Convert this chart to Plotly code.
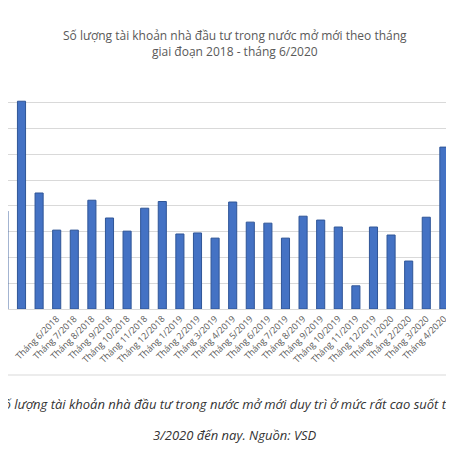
import plotly.graph_objects as go

months = ["Tháng 3/2018","Tháng 4/2018","Tháng 5/2018","Tháng 6/2018","Tháng 7/2018","Tháng 8/2018",
          "Tháng 9/2018","Tháng 10/2018","Tháng 11/2018","Tháng 12/2018","Tháng 1/2019","Tháng 2/2019",
          "Tháng 3/2019","Tháng 4/2019","Tháng 5/2019","Tháng 6/2019","Tháng 7/2019","Tháng 8/2019",
          "Tháng 9/2019","Tháng 10/2019","Tháng 11/2019","Tháng 12/2019","Tháng 1/2020","Tháng 2/2020",
          "Tháng 3/2020","Tháng 4/2020","Tháng 5/2020"]
values = [3.8, 8.06, 4.5, 3.06, 3.06, 4.22, 3.53, 3.02, 3.91, 4.17, 2.91, 2.95, 2.75, 4.15, 3.37,
          3.33, 2.75, 3.6, 3.45, 3.18, 0.9, 3.18, 2.87, 1.86, 3.56, 6.28, 7.25]

fig = go.Figure(go.Bar(x=list(range(len(months))), y=values, width=0.46,
                       marker=dict(color="#4472C4", line=dict(color="#2F5597", width=1))))
fig.update_layout(
    width=454, height=454, margin=dict(l=0, r=0, t=69, b=153),
    paper_bgcolor="white", plot_bgcolor="white", showlegend=False,
    xaxis=dict(range=[0.233, 26.03], tickmode="array", tickvals=list(range(len(months))),
               ticktext=months, tickangle=-45, tickfont=dict(family="Open Sans", size=9, color="#595959"),
               showgrid=False, showline=True, linecolor="#D9D9D9", ticks=""),
    yaxis=dict(range=[0, 9], dtick=1, showticklabels=False, gridcolor="#D9D9D9", zeroline=False),
    font=dict(family="Open Sans"),
    annotations=[
        dict(text="Số lượng tài khoản nhà đầu tư trong nước mở mới theo tháng<br>giai đoạn 2018 - tháng 6/2020",
             xref="paper", yref="paper", x=0.5, y=1, yshift=52, xanchor="center", yanchor="top",
             showarrow=False, font=dict(size=12, color="#595959")),
        dict(text="<i>Số lượng tài khoản nhà đầu tư trong nước mở mới duy trì ở mức rất cao suốt từ tháng</i>",
             xref="paper", yref="paper", x=1, xshift=32, y=0, yshift=-95, xanchor="right", yanchor="middle",
             showarrow=False, font=dict(size=13, color="#333333")),
        dict(text="<i>3/2020 đến nay. Nguồn: VSD</i>",
             xref="paper", yref="paper", x=0.5, y=0, yshift=-126, xanchor="center", yanchor="middle",
             showarrow=False, font=dict(size=13, color="#333333")),
    ],
    shapes=[dict(type="line", xref="paper", yref="paper", x0=0, x1=1, ysizemode="pixel", yanchor=0,
                 y0=-66, y1=-66, line=dict(color="#D9D9D9", width=1))],
)
fig.write_html("out.html")
